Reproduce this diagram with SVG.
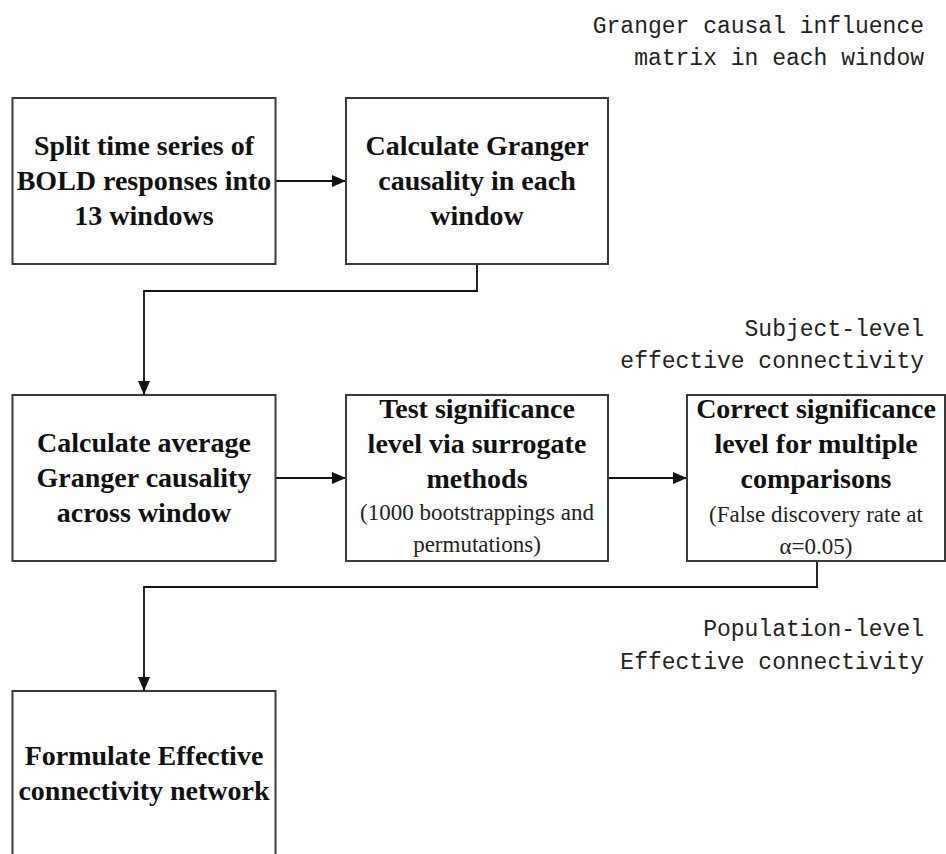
<svg xmlns="http://www.w3.org/2000/svg" width="946" height="854" viewBox="0 0 946 854">
<defs>
<style>
.box{fill:#fff;stroke:#3a3a3a;stroke-width:2}
.t{font-family:"Liberation Serif","Times New Roman",serif;font-weight:bold;font-size:28px;fill:#111;text-anchor:middle}
.s{font-family:"Liberation Serif","Times New Roman",serif;font-size:23px;fill:#222;text-anchor:middle}
.m{font-family:"Liberation Mono","Courier New",monospace;font-size:23px;fill:#222;text-anchor:end}
.c{fill:none;stroke:#111;stroke-width:1.8}
</style>
<marker id="ah" markerUnits="userSpaceOnUse" markerWidth="14" markerHeight="12" viewBox="0 0 14 12" refX="14" refY="6" orient="auto">
<path d="M0,0 L14,6 L0,12 z" fill="#111"/>
</marker>
</defs>

<g id="label-matrix">
<text class="m" x="924" y="33">Granger causal influence</text>
<text class="m" x="924" y="65">matrix in each window</text>
</g>
<g id="label-subject">
<text class="m" x="924" y="336">Subject-level</text>
<text class="m" x="924" y="368">effective connectivity</text>
</g>
<g id="label-population">
<text class="m" x="924" y="636">Population-level</text>
<text class="m" x="924" y="669">Effective connectivity</text>
</g>

<g id="connectors">
<line class="c" x1="276" y1="181" x2="346" y2="181" marker-end="url(#ah)"/>
<line class="c" x1="276" y1="478" x2="346" y2="478" marker-end="url(#ah)"/>
<line class="c" x1="609" y1="478" x2="687" y2="478" marker-end="url(#ah)"/>
<path class="c" d="M477,265 V291 H144 V395" marker-end="url(#ah)"/>
<path class="c" d="M817,562 V587 H144 V691" marker-end="url(#ah)"/>
</g>

<g id="split">
<rect class="box" x="12.5" y="98" width="263" height="166"/>
<text class="t" x="144" y="155">Split time series of</text>
<text class="t" x="144" y="190">BOLD responses into</text>
<text class="t" x="144" y="225">13 windows</text>
</g>

<g id="calc-granger">
<rect class="box" x="346" y="98" width="262" height="166"/>
<text class="t" x="477" y="155">Calculate Granger</text>
<text class="t" x="477" y="190">causality in each</text>
<text class="t" x="477" y="225">window</text>
</g>

<g id="calc-average">
<rect class="box" x="12.5" y="395" width="263" height="166"/>
<text class="t" x="144" y="452">Calculate average</text>
<text class="t" x="144" y="487">Granger causality</text>
<text class="t" x="144" y="522">across window</text>
</g>

<g id="test-significance">
<rect class="box" x="346" y="395" width="262" height="166"/>
<text class="t" x="477" y="418">Test significance</text>
<text class="t" x="477" y="453">level via surrogate</text>
<text class="t" x="477" y="488">methods</text>
<text class="s" x="477" y="520">(1000 bootstrappings and</text>
<text class="s" x="477" y="552">permutations)</text>
</g>

<g id="correct-significance">
<rect class="box" x="687" y="395" width="258" height="166"/>
<text class="t" x="816" y="418">Correct significance</text>
<text class="t" x="816" y="453">level for multiple</text>
<text class="t" x="816" y="488">comparisons</text>
<text class="s" x="816" y="522">(False discovery rate at</text>
<text class="s" x="816" y="554">α=0.05)</text>
</g>

<g id="formulate">
<rect class="box" x="12.5" y="691" width="263" height="180"/>
<text class="t" x="144" y="765">Formulate Effective</text>
<text class="t" x="144" y="800">connectivity network</text>
</g>
</svg>
